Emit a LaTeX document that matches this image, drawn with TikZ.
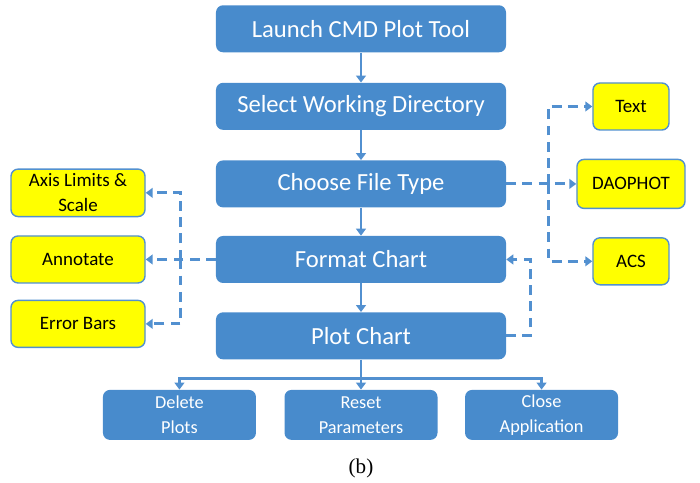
\documentclass[tikz,border=0pt]{standalone}
\usepackage{fontspec}
\setmainfont{Carlito}
\newfontfamily\capfont{Liberation Serif}
\usetikzlibrary{shapes,arrows.meta,positioning,calc}
\usepackage{xcolor}
\definecolor{boxblue}{RGB}{72,139,204}
\definecolor{lineblue}{RGB}{82,144,208}
\definecolor{hiyellow}{RGB}{255,255,0}

\begin{document}
\begin{tikzpicture}[node distance=0.75cm, >={Triangle[length=5pt,width=7pt]}]
    \tikzstyle{mainbox} = [rectangle, rounded corners=5pt, fill=boxblue, text=white, minimum width=7.25cm, minimum height=1.175cm, font=\fontsize{17.5}{20}\selectfont]
    \tikzstyle{subbox} = [rectangle, rounded corners=5pt, fill=boxblue, text=white, minimum width=3.825cm, minimum height=1.25cm, align=center, font=\fontsize{13}{17.7}\selectfont]
    \tikzstyle{optbox} = [rectangle, rounded corners=5pt, fill=hiyellow, draw=lineblue, line width=1pt, text=black, minimum height=1.175cm, align=center, font=\fontsize{13.5}{17.7}\selectfont]
    \tikzstyle{flow} = [->, line width=2.1pt, draw=lineblue]
    \tikzstyle{option} = [->, line width=2.1pt, draw=lineblue, dash pattern=on 7pt off 4.5pt]

    % Main steps
    \node[mainbox] (launch) {Launch CMD Plot Tool};
    \node[mainbox] (workdir) [below=of launch] {Select Working Directory};
    \node[mainbox] (filetype) [below=of workdir] {Choose File Type};
    \node[mainbox] (format) [below=0.7cm of filetype] {Format Chart};
    \node[mainbox] (plot) [below=0.72cm of format] {Plot Chart};
    \node[subbox] (reset) [below=0.75cm of plot] {Reset\\Parameters};
    \node[subbox] (delete) [left=0.7cm of reset] {Delete\\Plots};
    \node[subbox] (close) [right=0.675cm of reset] {Close\\Application};

    % Options
    \node[optbox, minimum width=3.35cm] (annotate) [left=1.75cm of format] {Annotate};
    \node[optbox, minimum width=3.35cm] (axis) [above=0.45cm of annotate] {Axis Limits \&\\Scale};
    \node[optbox, minimum width=3.35cm] (errbars) [below=0.4cm of annotate] {Error Bars};
    \node[optbox, minimum width=2.7cm, minimum height=1.225cm] (daophot) [right=1.75cm of filetype] {DAOPHOT};
    \node[optbox, minimum width=1.9cm] (text) [above=0.7cm of daophot] {Text};
    \node[optbox, minimum width=1.9cm] (acs) [below=0.7cm of daophot] {ACS};

    \node[font=\capfont\fontsize{15}{17}\selectfont] (caption) at ($(reset.south)+(0,-0.7cm)$) {(b)};

    \useasboundingbox ($(launch.north)+(-9.025cm,0.125cm)$) rectangle ++(17.5cm,-12.025cm);

    % Flow
    \draw[flow] (launch) -- (workdir);
    \draw[flow] (workdir) -- (filetype);
    \draw[flow] (filetype) -- (format);
    \draw[flow] (format) -- (plot);
    \coordinate (split) at ($(plot.south)+(0,-0.475cm)$);
    \draw[line width=2.1pt, draw=lineblue] (plot.south) -- (split);
    \draw[flow] (split) -| (delete.north);
    \draw[flow] (split) -- (reset.north);
    \draw[flow] (split) -| (close.north);

    % Dashed branches
    \coordinate (rtrunk) at ($(filetype.east)+(1.05cm,0)$);
    \draw[option] (filetype.east) -- (daophot.west);
    \draw[option] (rtrunk) |- (text.west);
    \draw[option] (rtrunk) |- (acs.west);
    \coordinate (ltrunk) at ($(format.west)+(-0.875cm,0)$);
    \draw[option] (format.west) -- (annotate.east);
    \draw[option] (ltrunk) |- (axis.east);
    \draw[option] (ltrunk) |- (errbars.east);
    \draw[option] (plot.east) -- ++(0.6cm,0) |- (format.east);
\end{tikzpicture}
\end{document}
